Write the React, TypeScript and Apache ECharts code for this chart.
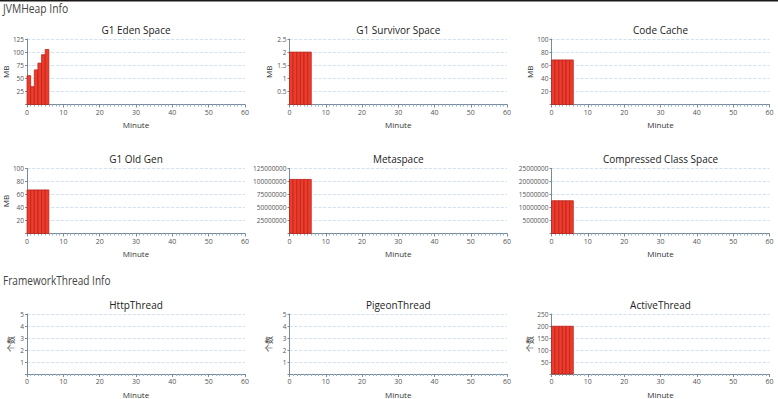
import React, { useEffect, useRef } from "react";
import * as echarts from "echarts";

const minutes = [0, 1, 2, 3, 4, 5];
const edenSpace = [55, 34, 66, 79, 95, 105];
const survivorSpace = [2, 2, 2, 2, 2, 2];
const codeCache = [68, 68, 68, 68, 68, 68];
const oldGen = [67, 67, 67, 67, 67, 67];
const metaspace = [104000000, 104000000, 104000000, 104000000, 104000000, 104000000];
const compressedClass = [12600000, 12600000, 12600000, 12600000, 12600000, 12600000];
const httpThread: number[] = [];
const pigeonThread: number[] = [];
const activeThread = [199, 199, 199, 199, 199, 199];

const sectionTitles = ["JVMHeap Info", "FrameworkThread Info"];

const charts = [
  { title: "G1 Eden Space", values: edenSpace, max: 125, interval: 25, unit: "MB" },
  { title: "G1 Survivor Space", values: survivorSpace, max: 2.5, interval: 0.5, unit: "MB" },
  { title: "Code Cache", values: codeCache, max: 100, interval: 20, unit: "MB" },
  { title: "G1 Old Gen", values: oldGen, max: 100, interval: 20, unit: "MB" },
  { title: "Metaspace", values: metaspace, max: 125000000, interval: 25000000, unit: "" },
  { title: "Compressed Class Space", values: compressedClass, max: 25000000, interval: 5000000, unit: "" },
  { title: "HttpThread", values: httpThread, max: 5, interval: 1, unit: "个数" },
  { title: "PigeonThread", values: pigeonThread, max: 5, interval: 1, unit: "个数" },
  { title: "ActiveThread", values: activeThread, max: 250, interval: 50, unit: "个数" },
];

const colLeft = [27, 289.5, 551.5];
const colWidth = [218, 217.5, 218];
const rowTop = [39, 168.5, 314];
const rowHeight = [65.5, 65, 65.5];
const titleY = [29.5, 158.5, 304.5];
const nameGaps = [17, 17, 17, 17, 17, 17, 13, 17, 17];

const FONT = "'Open Sans', 'Noto Sans', 'Noto Sans CJK SC', sans-serif";

export default function App() {
  const ref = useRef<HTMLDivElement>(null);
  useEffect(() => {
    if (!ref.current) return;
    const chart = echarts.init(ref.current, undefined, { renderer: "svg" });
    const grids: any[] = [];
    const xAxes: any[] = [];
    const yAxes: any[] = [];
    const series: any[] = [];
    const graphics: any[] = [
      { type: "rect", x: 0, y: 0, shape: { width: 778, height: 1.5 }, style: { fill: "#1a1a1a" } },
      {
        type: "text",
        x: 3,
        y: 2,
        scaleX: 0.86,
        style: {
          text: sectionTitles[0],
          fontSize: 12,
          fill: "#444",
          fontFamily: FONT,
          textVerticalAlign: "top",
        },
      },
      {
        type: "text",
        x: 3,
        y: 280,
        scaleX: 0.84,
        style: {
          text: sectionTitles[1],
          fontSize: 12,
          fill: "#444",
          fontFamily: FONT,
          textVerticalAlign: "middle",
        },
      },
    ];
    charts.forEach((c, i) => {
      const col = i % 3;
      const row = Math.floor(i / 3);
      grids.push({
        left: colLeft[col],
        top: rowTop[row],
        width: colWidth[col],
        height: rowHeight[row],
        containLabel: false,
      });
      graphics.push({
        type: "text",
        x: colLeft[col] + colWidth[col] / 2,
        y: titleY[row],
        scaleX: 0.87,
        style: {
          text: c.title,
          fontSize: 11.5,
          fill: "#222",
          fontFamily: FONT,
          textAlign: "center",
          textVerticalAlign: "middle",
        },
      });
      xAxes.push({
        gridIndex: i,
        type: "value",
        min: 0,
        max: 60,
        interval: 10,
        name: "Minute",
        nameLocation: "middle",
        nameGap: 16,
        nameTextStyle: { fontSize: 8, color: "#333", fontFamily: FONT },
        axisLine: { show: true, lineStyle: { color: "#7b8a9a", width: 1 } },
        axisTick: { show: true, length: 3, lineStyle: { color: "#7b8a9a" } },
        minorTick: { show: true, splitNumber: 10, length: 2, lineStyle: { color: "#8fb3d6" } },
        axisLabel: { fontSize: 7, color: "#555", margin: 4, fontFamily: FONT },
        splitLine: { show: false },
      });
      yAxes.push({
        gridIndex: i,
        type: "value",
        min: 0,
        max: c.max,
        interval: c.interval,
        name: c.unit,
        nameLocation: "middle",
        nameGap: nameGaps[i],
        nameRotate: 90,
        nameTextStyle: { fontSize: 8, color: "#333", fontFamily: FONT },
        axisLine: { show: true, lineStyle: { color: "#7b8a9a", width: 1 } },
        axisTick: { show: true, length: 2, lineStyle: { color: "#7b8a9a" } },
        axisLabel: {
          fontSize: 6.5,
          color: "#555",
          margin: 3,
          fontFamily: FONT,
          formatter: (v: number) => (v === 0 ? "" : String(v)),
        },
        splitLine: { show: true, lineStyle: { color: "#c9d9ea", type: "dashed", width: 0.8 } },
      });
      series.push({
        type: "custom",
        xAxisIndex: i,
        yAxisIndex: i,
        data: c.values.map((v, k) => [minutes[k], v]),
        encode: { x: 0, y: 1 },
        renderItem: (params: any, api: any) => {
          const x = api.value(0);
          const y = api.value(1);
          const p0 = api.coord([x, y]);
          const p1 = api.coord([x + 1, 0]);
          return {
            type: "rect",
            shape: { x: p0[0], y: p0[1], width: p1[0] - p0[0], height: p1[1] - p0[1] },
            style: { fill: "#ef3b2c", stroke: "#b8241a", lineWidth: 0.8 },
          };
        },
      });
    });
    chart.setOption({
      animation: false,
      backgroundColor: "#ffffff",
      textStyle: { fontFamily: FONT },
      grid: grids,
      xAxis: xAxes,
      yAxis: yAxes,
      series,
      graphic: graphics,
    });
    return () => chart.dispose();
  }, []);
  return (
    <div
      ref={ref}
      style={{ position: "fixed", left: 0, top: 0, width: 778, height: 399, background: "#fff" }}
    />
  );
}
